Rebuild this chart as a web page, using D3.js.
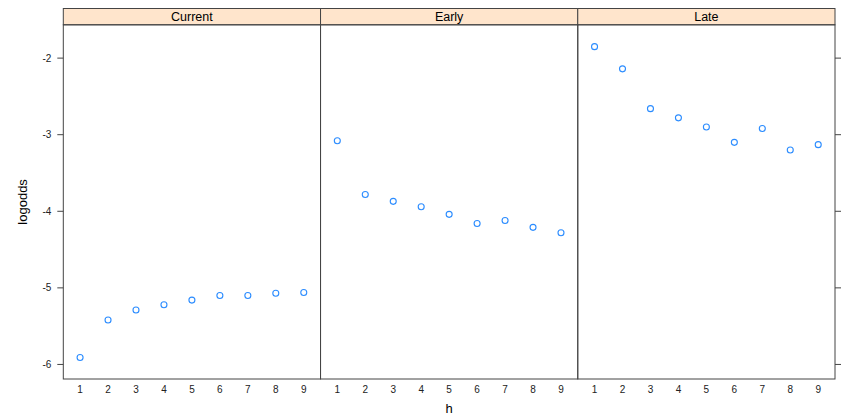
<!DOCTYPE html>
<html>
<head>
<meta charset="utf-8">
<script src="https://cdn.jsdelivr.net/npm/d3@7"></script>
<style>
  body { margin: 0; background: #fff; }
  text { font-family: "Liberation Sans", Arial, sans-serif; fill: #000; }
</style>
</head>
<body>
<svg id="chart" width="842" height="417"></svg>
<script>
// panels and values
const panels = ['Current', 'Early', 'Late'];
const hValues = [1, 2, 3, 4, 5, 6, 7, 8, 9];
const current = [-5.91, -5.42, -5.29, -5.22, -5.16, -5.10, -5.10, -5.07, -5.06];
const early = [-3.08, -3.78, -3.87, -3.94, -4.04, -4.16, -4.12, -4.21, -4.28];
const late = [-1.85, -2.14, -2.66, -2.78, -2.90, -3.10, -2.92, -3.20, -3.13];
const yTicks = [-2, -3, -4, -5, -6];

const series = { Current: current, Early: early, Late: late };

const svg = d3.select('#chart');

const padL = 63.3, padR = 835, padT = 8.5, stripH = 16.3, padB = 379;
const panelW = (padR - padL) / panels.length;

const y = d3.scaleLinear()
  .domain([-6.19, -1.565])
  .range([padB, padT + stripH]);

const x = d3.scaleLinear()
  .domain([0.4, 9.6])
  .range([0, panelW]);

panels.forEach(function(name, i){
  const g = svg.append('g')
    .attr('transform', 'translate(' + (padL + i * panelW) + ',0)');

  // strip
  g.append('rect')
    .attr('x', 0).attr('y', padT)
    .attr('width', panelW).attr('height', stripH)
    .attr('fill', '#ffe5cc')
    .attr('stroke', '#444').attr('stroke-width', 1);

  g.append('text')
    .attr('x', panelW / 2).attr('y', padT + stripH / 2 + 4.5)
    .attr('text-anchor', 'middle')
    .style('font-size', '12.5px')
    .text(name);

  // panel box
  g.append('rect')
    .attr('x', 0).attr('y', padT + stripH)
    .attr('width', panelW).attr('height', padB - padT - stripH)
    .attr('fill', 'none')
    .attr('stroke', '#444').attr('stroke-width', 1);

  // x tick labels
  g.selectAll('.xlab')
    .data(hValues)
    .join('text')
    .attr('class', 'xlab')
    .attr('x', function(d){ return x(d); })
    .attr('y', padB + 14)
    .attr('text-anchor', 'middle')
    .style('font-size', '10px')
    .style('fill', '#222')
    .text(function(d){ return d; });

  // points
  g.selectAll('.pt')
    .data(series[name])
    .join('circle')
    .attr('class', 'pt')
    .attr('cx', function(d, j){ return x(hValues[j]); })
    .attr('cy', function(d){ return y(d); })
    .attr('r', 3)
    .attr('fill', 'none')
    .attr('stroke', '#2b8cff')
    .attr('stroke-width', 1.1);
});

// left y axis
const yAxisL = svg.append('g').attr('transform', 'translate(' + padL + ',0)');
yAxisL.selectAll('line')
  .data(yTicks)
  .join('line')
  .attr('x1', -6).attr('x2', 0)
  .attr('y1', function(d){ return y(d); })
  .attr('y2', function(d){ return y(d); })
  .attr('stroke', '#444');
yAxisL.selectAll('text')
  .data(yTicks)
  .join('text')
  .attr('x', -12)
  .attr('y', function(d){ return y(d) + 3.5; })
  .attr('text-anchor', 'end')
  .style('font-size', '10px')
  .style('fill', '#222')
  .text(function(d){ return d; });

// right y ticks
const yAxisR = svg.append('g').attr('transform', 'translate(' + padR + ',0)');
yAxisR.selectAll('line')
  .data(yTicks)
  .join('line')
  .attr('x1', 0).attr('x2', 6)
  .attr('y1', function(d){ return y(d); })
  .attr('y2', function(d){ return y(d); })
  .attr('stroke', '#444');

// axis titles
svg.append('text')
  .attr('transform', 'translate(27,' + ((padT + stripH + padB) / 2) + ') rotate(-90)')
  .attr('text-anchor', 'middle')
  .style('font-size', '13px')
  .text('logodds');

svg.append('text')
  .attr('x', (padL + padR) / 2)
  .attr('y', 413)
  .attr('text-anchor', 'middle')
  .style('font-size', '13px')
  .text('h');
</script>
</body>
</html>
